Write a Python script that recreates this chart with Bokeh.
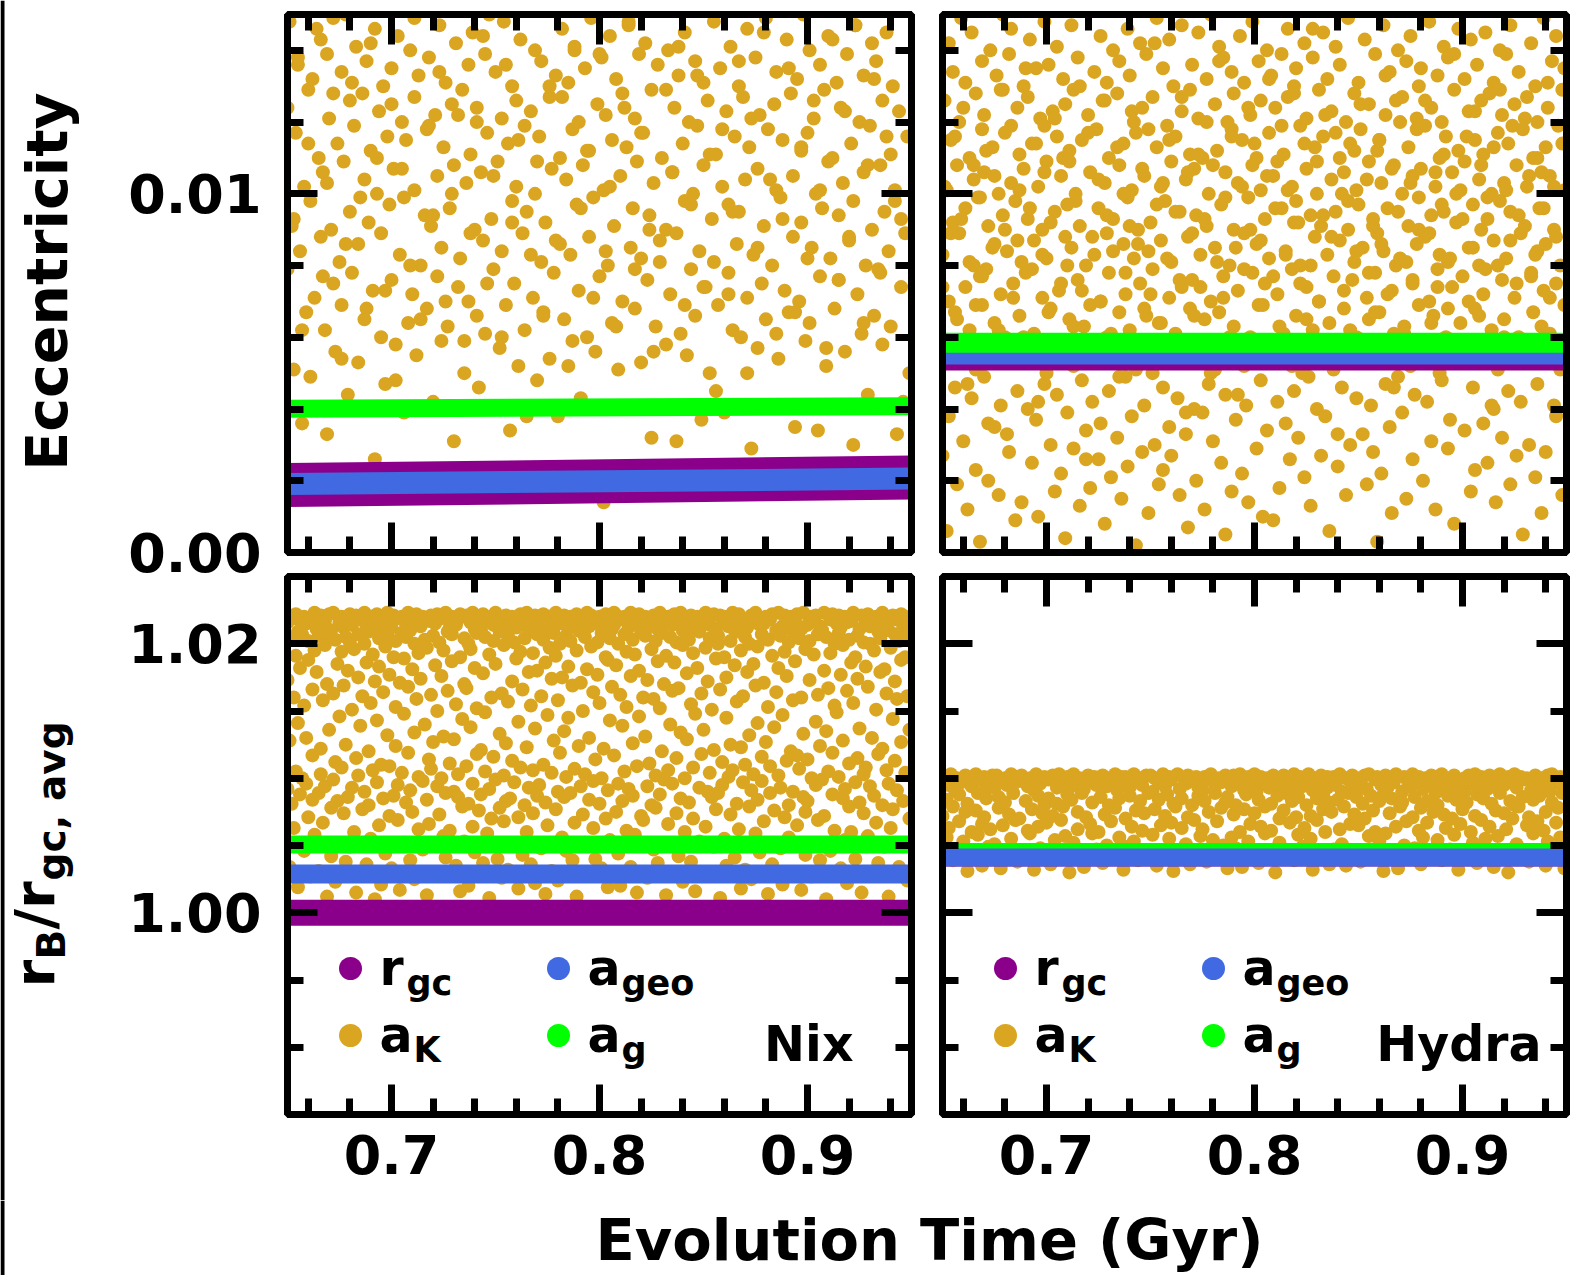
import numpy as np
from bokeh.plotting import figure
from bokeh.models import FixedTicker, PrintfTickFormatter, LinearAxis, Label, Range1d, Grid, BoxAnnotation
from bokeh.layouts import column, row
from bokeh.embed import file_html
from bokeh.resources import INLINE

# ======================= DATA =======================
x_limits = [0.65, 0.95]          # Evolution time (Gyr)
ecc_limits = [0.0, 0.015]
ratio_limits = [0.985, 1.025]
x_major_ticks = [0.7, 0.8, 0.9]
x_minor_ticks = [0.66, 0.68, 0.72, 0.74, 0.76, 0.78, 0.82, 0.84, 0.86, 0.88, 0.92, 0.94]
ecc_major_ticks = [0.0, 0.01]
ecc_minor_ticks = [0.002, 0.004, 0.006, 0.008, 0.012, 0.014]
ratio_major_ticks = [1.0, 1.02]
ratio_minor_ticks = [0.99, 0.995, 1.005, 1.01, 1.015]

legend_labels = [("r", "gc"), ("a", "geo"), ("a", "K"), ("a", "g")]
panel_names = ["Nix", "Hydra"]

# mean-element tracks (start / end of the interval)
line_time_gyr = [0.65, 0.95]
nix_ecc_rgc = [0.00188, 0.00209]
nix_ecc_ageo = [0.00191, 0.00206]
nix_ecc_ag = [0.00401, 0.00408]
hyd_ecc_rgc = [0.00535, 0.00535]
hyd_ecc_ageo = [0.00552, 0.00552]
hyd_ecc_ag = [0.00585, 0.00585]
nix_ratio_rgc = [1.0000, 1.0000]
nix_ratio_ageo = [1.00288, 1.00288]
nix_ratio_ag = [1.00507, 1.00507]
hyd_ratio_rgc = [1.00411, 1.00411]
hyd_ratio_ageo = [1.00411, 1.00411]
hyd_ratio_ag = [1.00452, 1.00452]

# Keplerian a_K samples: time in Myr, eccentricity x 1e3
nix_ecc_aK_time_myr = [
650,650,651,653,653,654,655,656,657,658,658,659,660,661,661,662,663,665,666,666,667,668,669,669,
670,671,672,672,673,674,675,676,676,677,678,679,680,680,681,682,683,684,684,686,687,687,688,689,
690,691,692,692,693,694,695,695,696,697,698,699,700,700,701,702,703,704,705,706,706,707,708,709,
710,711,711,712,713,714,715,716,717,717,718,719,720,721,722,722,723,724,724,725,726,727,728,729,
730,730,731,732,733,734,735,736,737,737,738,739,740,741,741,742,743,744,745,745,746,747,748,749,
750,751,752,753,753,754,755,756,757,758,758,759,760,760,761,762,763,764,764,765,767,768,769,769,
770,771,772,772,773,774,775,776,776,777,778,779,780,781,781,782,783,784,785,786,787,787,788,789,
790,790,791,792,793,794,795,795,796,797,798,799,800,801,802,802,803,804,805,806,806,807,808,809,
810,811,811,812,813,814,815,816,817,817,818,819,820,820,821,822,823,824,825,825,826,827,828,829,
830,831,832,832,833,834,835,836,837,837,838,839,840,841,841,842,843,844,845,846,846,847,848,849,
850,850,851,852,853,854,855,855,856,857,858,859,860,861,862,862,863,864,865,866,867,867,868,869,
870,871,871,872,873,874,875,876,876,877,878,879,880,880,881,882,883,884,885,885,886,887,888,889,
890,891,892,893,893,894,895,896,897,897,898,899,900,901,901,902,903,904,905,906,906,907,908,909,
910,910,911,912,913,914,915,915,916,917,918,919,920,921,922,922,923,924,925,926,927,927,928,929,
930,931,931,932,933,934,935,936,936,937,938,939,940,940,941,942,943,944,945,945,946,947,948,949,
652,655,657,660,664,667,669,672,676,678,681,685,688,690,693,697,700,702,705,709,
711,714,718,720,723,726,729,732,735,738,741,744,746,749,753,755,758,761,765,767,
770,773,776,779,782,785,788,791,794,797,800,803,805,808,812,814,817,820,824,826,
829,832,835,838,841,844,847,850,853,856,859,862,864,867,871,873,876,879,882,885,
888,891,894,897,900,903,906,909,912,915,918,920,923,927,929,932,935,938,942,946]
nix_ecc_aK_e3 = [
12.4,7.9,14.8,9.3,5.1,11.7,13.6,8.4,3.6,10.2,15.1,6.7,12.9,9.8,4.9,13.2,7.1,11.0,14.3,8.8,
10.6,6.2,13.9,3.3,12.1,9.0,14.9,7.5,5.6,11.4,8.1,13.4,6.9,10.9,15.0,4.4,12.6,9.5,7.8,11.9,
14.1,8.6,5.3,12.8,10.4,6.5,13.7,9.2,11.2,7.3,14.6,2.6,10.0,12.3,6.0,8.9,13.0,4.7,11.6,9.7,
7.6,13.5,10.7,5.8,14.4,8.3,12.0,3.9,9.9,11.5,6.4,14.0,7.2,12.7,10.1,5.5,13.3,8.0,15.2,9.4,
11.8,6.8,13.8,9.1,4.2,12.2,7.7,10.5,14.7,8.5,5.9,11.3,13.1,6.3,9.6,12.5,3.1,10.8,14.2,7.4,
8.2,12.9,5.0,10.3,13.6,7.0,11.1,14.5,9.0,6.6,12.4,4.6,10.6,8.7,13.9,6.1,11.7,15.0,9.3,7.9,
13.4,10.9,5.7,12.1,8.4,14.8,6.9,11.4,3.4,9.8,13.0,7.5,10.2,12.6,5.2,14.3,8.9,11.9,6.2,9.5,
12.3,7.1,14.0,10.0,4.8,11.6,8.1,13.7,6.7,9.2,15.1,5.4,12.7,10.7,7.8,13.3,3.8,11.0,8.6,14.6,
6.5,10.4,13.1,8.3,11.8,5.9,14.1,9.7,12.0,7.3,4.3,10.8,13.5,6.0,11.2,8.8,14.9,9.9,5.6,12.5,
7.7,13.8,10.1,1.4,12.2,8.0,14.4,6.4,11.5,9.1,13.2,5.1,10.5,7.0,12.8,4.0,11.3,14.7,8.5,9.6,
12.1,6.8,10.9,13.9,5.3,8.2,11.7,14.2,7.6,9.4,3.2,12.9,10.3,6.3,13.6,8.7,11.0,15.2,5.8,9.0,
14.0,7.2,10.6,12.4,8.9,3.1,13.3,6.1,11.4,9.8,14.5,5.5,12.0,7.9,10.0,13.7,6.6,11.9,8.4,3.7,
10.8,13.1,7.4,12.6,5.0,9.3,14.8,8.1,11.1,6.9,13.5,10.2,3.9,12.3,7.8,9.7,14.1,6.2,11.6,8.6,
13.0,9.5,6.0,12.7,10.4,14.6,7.1,11.3,2.9,8.3,13.8,5.7,10.7,12.2,7.5,9.1,14.9,6.5,11.8,4.1,
8.0,12.5,10.1,13.4,5.4,9.9,11.5,7.3,14.3,6.7,12.8,8.8,10.5,3.5,13.2,7.0,11.2,9.2,15.0,5.9,
11.7,6.4,14.0,8.5,12.1,10.0,3.4,13.6,7.7,9.6,12.9,5.2,10.9,14.4,8.2,11.0,6.8,13.1,9.4,7.6,
12.4,10.3,5.6,13.9,8.7,11.4,3.0,9.8,14.7,7.2,12.0,6.1,10.6,13.3,8.0,4.4,11.9,9.0,14.2,6.6,
13.7,7.9,10.8,12.6,5.8,9.5,14.5,8.4,11.1,6.3,13.0,10.1,3.3,12.3,7.4,9.3,15.1,8.9,11.6,5.0,
9.1,13.8,6.2,11.4,14.6,7.7,10.3,12.8,5.4,8.6,13.1,9.9,6.8,14.2,11.0,7.3,12.5,4.8,10.7,8.0,
14.9,6.5,11.9,9.4,13.4,7.0,10.0,12.2,5.9,8.9,12.0,14.4,7.5,10.5,6.0,13.6,9.2,11.5,3.8,8.3,
10.9,6.6,13.0,8.7,12.7,5.2,14.0,9.6,11.2,7.1,13.9,8.4,10.2,6.3,12.4,14.8,7.9,11.7,9.0,5.6,
8.1,12.9,10.6,14.1,6.9,9.7,13.3,7.4,11.1,4.5,11.8,7.2,9.5,13.7,5.0,12.1,8.5,14.5,10.4,6.1,
9.3,13.5,6.7,11.3,8.2,12.6,10.1,5.7,14.3,7.6,12.3,8.8,14.7,6.4,10.8,13.2,7.8,11.6,9.8,4.2]

hyd_ecc_aK_time_myr = [
650,650,651,651,652,652,653,653,653,654,655,655,656,656,657,657,658,658,659,659,
660,661,661,661,662,663,663,664,664,665,665,666,666,666,667,668,668,669,669,669,
670,670,670,671,672,672,673,674,674,675,675,675,676,677,677,678,678,679,679,679,
680,680,681,681,682,682,683,683,683,684,685,685,686,686,687,687,688,688,689,689,
690,691,691,691,692,693,693,694,694,695,695,696,696,696,697,698,698,699,699,699,
700,700,700,701,702,702,703,704,704,705,705,705,706,707,707,708,708,709,709,709,
710,710,711,711,712,712,713,713,713,714,715,715,716,716,717,717,718,718,719,719,
720,721,721,721,722,723,723,724,724,725,725,726,726,726,727,728,728,729,729,729,
730,730,730,731,732,732,733,734,734,735,735,735,736,737,737,738,738,739,739,739,
740,740,741,741,742,742,743,743,743,744,745,745,746,746,747,747,748,748,749,749,
750,751,751,751,752,753,753,754,754,755,755,756,756,756,757,758,758,759,759,759,
760,760,760,761,762,762,763,764,764,765,765,765,766,767,767,768,768,769,769,769,
770,770,771,771,772,772,773,773,773,774,775,775,776,776,777,777,778,778,779,779,
780,781,781,781,782,783,783,784,784,785,785,786,786,786,787,788,788,789,789,789,
790,790,790,791,792,792,793,794,794,795,795,795,796,797,797,798,798,799,799,799,
800,800,801,801,802,802,803,803,803,804,805,805,806,806,807,807,808,808,809,809,
810,811,811,811,812,813,813,814,814,815,815,816,816,816,817,818,818,819,819,819,
820,820,820,821,822,822,823,824,824,825,825,825,826,827,827,828,828,829,829,829,
830,830,831,831,832,832,833,833,833,834,835,835,836,836,837,837,838,838,839,839,
840,841,841,841,842,843,843,844,844,845,845,846,846,846,847,848,848,849,849,849,
850,850,850,851,852,852,853,854,854,855,855,855,856,857,857,858,858,859,859,859,
860,860,861,861,862,862,863,863,863,864,865,865,866,866,867,867,868,868,869,869,
870,871,871,871,872,873,873,874,874,875,875,876,876,876,877,878,878,879,879,879,
880,880,880,881,882,882,883,884,884,885,885,885,886,887,887,888,888,889,889,889,
890,890,891,891,892,892,893,893,893,894,895,895,896,896,897,897,898,898,899,899,
900,901,901,901,902,903,903,904,904,905,905,906,906,906,907,908,908,909,909,909,
910,910,910,911,912,912,913,914,914,915,915,915,916,917,917,918,918,919,919,919,
920,920,921,921,922,922,923,923,923,924,925,925,926,926,927,927,928,928,929,929,
930,931,931,931,932,933,933,934,934,935,935,936,936,936,937,938,938,939,939,939,
940,940,940,941,942,942,943,944,944,945,945,945,946,947,947,948,948,949,949,949,
650,651,653,654,656,657,659,660,662,663,665,666,668,669,671,672,674,675,677,678,
680,681,683,684,686,687,689,690,692,693,695,696,698,699,701,702,704,705,707,708,
710,711,713,714,716,717,719,720,722,723,725,726,728,729,731,732,734,735,737,738,
740,741,743,744,746,747,749,750,752,753,755,756,758,759,761,762,764,765,767,768,
770,771,773,774,776,777,779,780,782,783,785,786,788,789,791,792,794,795,797,798,
800,801,803,804,806,807,809,810,812,813,815,816,818,819,821,822,824,825,827,828,
830,831,833,834,836,837,839,840,842,843,845,846,848,849,851,852,854,855,857,858,
860,861,863,864,866,867,869,870,872,873,875,876,878,879,881,882,884,885,887,888,
890,891,893,894,896,897,899,900,902,903,905,906,908,909,911,912,914,915,917,918,
920,921,923,924,926,927,929,930,932,933,935,936,938,939,941,942,944,945,947,948]
hyd_ecc_aK_e3 = [
8.3,2.7,12.6,5.4,10.1,0.6,14.2,7.0,3.8,11.5,9.2,13.4,4.6,6.7,1.9,10.8,8.9,12.0,5.9,14.9,
3.1,9.6,7.4,13.1,1.2,11.0,6.2,4.3,14.5,8.0,10.4,2.3,12.8,5.1,9.9,7.7,0.3,11.8,6.9,13.7,
10.6,4.9,12.2,7.9,2.0,9.1,14.0,5.7,11.3,3.5,8.6,6.4,13.3,1.6,10.0,7.2,4.1,12.9,9.4,15.0,
6.0,11.7,3.3,8.4,13.9,2.8,10.3,5.3,14.6,7.5,9.8,0.9,12.4,4.5,11.1,6.6,8.1,1.4,13.0,10.7,
7.8,12.7,4.0,9.3,14.3,2.5,11.4,6.1,8.7,3.7,13.5,5.6,10.2,1.0,12.1,7.1,9.0,4.7,14.8,11.9,
5.0,10.9,8.2,13.6,3.0,6.8,12.3,1.7,9.5,11.6,4.4,14.1,7.3,2.2,10.5,5.8,13.2,8.8,0.4,12.5,
9.7,3.9,11.2,6.5,14.7,8.5,2.9,12.9,5.2,10.0,7.6,13.8,1.3,9.1,4.8,11.5,6.3,15.1,3.4,8.0,
12.2,6.9,1.8,10.6,4.2,13.4,8.3,5.5,11.8,2.6,9.6,14.4,7.0,3.6,12.6,10.3,0.8,6.0,13.1,8.9,
4.5,11.0,7.8,2.1,14.0,9.3,5.9,12.8,3.2,10.8,6.7,13.7,1.5,8.6,11.4,4.9,7.2,14.6,9.9,2.4,
13.3,6.2,10.1,3.8,8.2,12.0,0.2,11.7,5.3,9.0,14.2,7.5,2.8,12.4,4.1,10.5,6.6,13.9,8.4,1.1,
9.2,5.0,12.7,7.9,3.0,11.3,14.9,6.4,1.9,10.2,8.7,4.6,13.5,2.3,9.8,11.9,5.7,7.1,14.3,3.5,
10.9,2.7,8.1,13.0,6.1,11.6,4.3,9.5,1.6,12.3,7.4,14.7,5.4,10.4,3.3,8.8,0.7,12.9,6.8,11.1,
7.6,13.6,4.0,10.7,2.0,9.4,12.1,5.8,14.5,8.3,3.9,11.0,6.5,1.2,13.2,9.1,4.7,10.0,7.0,15.0,
3.1,12.5,8.5,5.1,11.2,14.1,6.7,2.5,9.7,13.8,7.7,0.5,10.6,4.4,12.0,8.0,5.6,11.8,1.7,13.4,
9.0,6.3,12.8,3.7,10.3,7.3,14.4,2.2,11.5,5.2,8.9,13.1,4.1,9.9,1.4,12.2,6.0,10.8,7.8,14.8,
5.5,11.4,2.9,8.6,13.7,6.9,10.1,4.8,12.6,1.0,9.3,7.5,14.0,3.4,11.7,8.2,5.9,13.3,0.9,10.5,
12.4,7.2,4.2,10.9,1.8,9.6,13.9,6.1,11.1,3.6,8.4,14.6,5.3,12.7,2.6,10.2,7.9,4.5,13.0,9.2,
6.6,13.5,9.8,3.2,11.9,8.0,5.0,14.2,2.1,10.7,7.4,12.1,4.9,9.4,1.3,13.8,6.2,11.3,8.8,15.1,
10.0,4.0,12.9,7.0,2.7,9.1,14.5,5.7,11.6,3.8,8.3,13.2,6.4,0.6,10.4,12.3,5.1,7.7,14.1,9.5,
2.4,11.0,8.7,13.6,4.6,10.6,6.8,12.0,1.6,9.0,14.9,5.4,11.4,3.0,7.6,12.8,8.1,4.3,10.1,6.0,
13.1,9.7,5.8,11.8,3.3,8.5,14.3,7.1,1.9,10.9,6.5,12.5,4.1,9.3,2.8,13.9,7.8,11.2,0.3,8.9,
11.5,6.7,2.2,10.3,14.7,8.4,4.7,12.2,5.9,9.6,3.5,13.4,7.3,1.1,10.8,6.1,12.6,8.0,14.0,4.9,
8.2,12.7,3.9,10.0,6.3,13.7,1.5,9.1,11.3,5.2,14.4,7.5,2.6,10.5,4.4,12.1,8.6,6.9,13.0,9.9,
5.6,10.7,13.5,2.0,8.8,11.9,4.2,7.0,14.8,9.4,3.1,12.4,6.6,1.2,10.2,7.9,13.3,5.0,11.0,8.3,
12.0,4.8,9.5,14.1,6.0,11.6,2.9,8.1,13.8,3.7,10.6,7.4,12.9,0.8,9.2,5.5,11.2,14.6,6.4,10.1,
7.7,13.2,3.4,10.9,5.3,12.3,8.5,1.7,14.3,9.7,4.6,11.5,6.8,2.3,13.6,8.0,10.4,5.8,12.6,9.0,
3.6,11.1,7.2,14.5,9.3,2.5,12.8,6.2,10.0,4.0,13.1,8.7,1.4,11.7,5.1,9.8,14.0,7.6,3.2,12.2,
10.3,6.5,13.9,8.2,4.5,11.4,1.9,9.5,14.7,5.7,12.5,7.1,2.7,10.8,6.0,13.4,8.9,4.2,11.8,0.5,
9.1,12.7,5.4,10.2,3.0,14.2,7.8,11.0,6.7,13.0,2.1,8.4,12.0,4.7,9.6,1.1,10.6,7.3,14.9,5.9,
11.3,8.6,2.8,12.4,6.1,10.5,13.7,4.1,9.0,7.5,14.4,3.8,11.9,5.2,8.0,12.9,1.6,10.1,6.9,13.5,
7.4,10.2,5.8,8.9,11.6,6.5,9.3,12.4,4.7,8.1,10.8,6.9,9.9,7.7,11.2,3.6,8.5,10.5,6.2,12.9,
9.0,5.3,11.9,7.1,8.7,10.1,6.0,13.5,9.6,7.9,11.4,4.2,8.3,10.6,6.7,9.2,12.1,5.5,7.5,11.0,
8.0,10.9,6.3,9.8,13.0,7.3,2.6,11.7,8.8,5.9,10.4,7.0,12.6,9.4,6.1,8.4,11.3,4.9,10.0,7.8,
9.1,12.3,5.1,8.6,10.7,6.8,11.8,7.2,14.2,9.7,6.4,10.3,8.2,11.5,5.6,9.5,7.6,12.7,3.9,10.6,
8.9,6.6,11.1,7.4,9.3,12.0,5.0,10.8,8.1,13.7,7.1,9.9,6.0,11.6,8.5,4.4,10.2,7.9,12.4,9.0,
5.7,11.0,8.7,6.9,10.5,13.2,7.7,9.6,6.3,11.9,8.3,10.1,5.2,12.8,9.2,7.5,11.4,6.5,8.0,14.6,
10.9,7.0,9.4,12.2,5.9,8.8,11.7,3.3,10.0,7.3,9.8,6.2,11.2,8.4,12.5,5.4,10.4,7.8,9.1,6.7,
11.5,8.6,13.3,7.2,10.7,4.6,9.5,12.0,6.1,8.1,10.3,7.6,11.8,9.0,5.8,12.6,8.9,6.4,10.6,7.4,
9.7,11.1,6.8,8.2,13.9,10.0,5.3,9.3,11.6,7.0,8.5,12.3,6.6,10.8,7.9,9.9,4.1,11.3,8.0,12.9,
6.0,10.1,8.7,11.9,7.5,9.4,5.5,12.1,10.5,7.7,8.3,11.0,6.3,9.6,13.1,7.1,10.2,8.8,5.1,11.4]

# r_B / r_gc,avg samples: time in Myr, (ratio - 1) x 1e3
nix_ratio_aK_time_myr = [
650,650,650,651,651,651,652,652,653,653,653,654,654,654,655,655,655,656,656,657,657,657,658,658,658,659,659,659,
660,660,660,661,661,662,662,662,663,663,663,664,664,664,665,665,665,666,666,666,667,667,668,668,668,669,669,669,
670,670,671,671,671,672,672,672,673,673,673,674,674,675,675,675,676,676,676,677,677,677,678,678,678,679,679,679,
680,680,680,681,681,681,682,682,683,683,683,684,684,684,685,685,685,686,686,687,687,687,688,688,688,689,689,689,
690,690,690,691,691,692,692,692,693,693,693,694,694,694,695,695,695,696,696,696,697,697,698,698,698,699,699,699,
700,700,701,701,701,702,702,702,703,703,703,704,704,705,705,705,706,706,706,707,707,707,708,708,708,709,709,709,
710,710,710,711,711,711,712,712,713,713,713,714,714,714,715,715,715,716,716,717,717,717,718,718,718,719,719,719,
720,720,720,721,721,722,722,722,723,723,723,724,724,724,725,725,725,726,726,726,727,727,728,728,728,729,729,729,
730,730,731,731,731,732,732,732,733,733,733,734,734,735,735,735,736,736,736,737,737,737,738,738,738,739,739,739,
740,740,740,741,741,741,742,742,743,743,743,744,744,744,745,745,745,746,746,747,747,747,748,748,748,749,749,749,
750,750,750,751,751,752,752,752,753,753,753,754,754,754,755,755,755,756,756,756,757,757,758,758,758,759,759,759,
760,760,761,761,761,762,762,762,763,763,763,764,764,765,765,765,766,766,766,767,767,767,768,768,768,769,769,769,
770,770,770,771,771,771,772,772,773,773,773,774,774,774,775,775,775,776,776,777,777,777,778,778,778,779,779,779,
780,780,780,781,781,782,782,782,783,783,783,784,784,784,785,785,785,786,786,786,787,787,788,788,788,789,789,789,
790,790,791,791,791,792,792,792,793,793,793,794,794,795,795,795,796,796,796,797,797,797,798,798,798,799,799,799,
800,800,800,801,801,801,802,802,803,803,803,804,804,804,805,805,805,806,806,807,807,807,808,808,808,809,809,809,
810,810,810,811,811,812,812,812,813,813,813,814,814,814,815,815,815,816,816,816,817,817,818,818,818,819,819,819,
820,820,821,821,821,822,822,822,823,823,823,824,824,825,825,825,826,826,826,827,827,827,828,828,828,829,829,829,
830,830,830,831,831,831,832,832,833,833,833,834,834,834,835,835,835,836,836,837,837,837,838,838,838,839,839,839,
840,840,840,841,841,842,842,842,843,843,843,844,844,844,845,845,845,846,846,846,847,847,848,848,848,849,849,849,
850,850,851,851,851,852,852,852,853,853,853,854,854,855,855,855,856,856,856,857,857,857,858,858,858,859,859,859,
860,860,860,861,861,861,862,862,863,863,863,864,864,864,865,865,865,866,866,867,867,867,868,868,868,869,869,869,
870,870,870,871,871,872,872,872,873,873,873,874,874,874,875,875,875,876,876,876,877,877,878,878,878,879,879,879,
880,880,881,881,881,882,882,882,883,883,883,884,884,885,885,885,886,886,886,887,887,887,888,888,888,889,889,889,
890,890,890,891,891,891,892,892,893,893,893,894,894,894,895,895,895,896,896,897,897,897,898,898,898,899,899,899,
900,900,900,901,901,902,902,902,903,903,903,904,904,904,905,905,905,906,906,906,907,907,908,908,908,909,909,909,
910,910,911,911,911,912,912,912,913,913,913,914,914,915,915,915,916,916,916,917,917,917,918,918,918,919,919,919,
920,920,920,921,921,921,922,922,923,923,923,924,924,924,925,925,925,926,926,927,927,927,928,928,928,929,929,929,
930,930,930,931,931,932,932,932,933,933,933,934,934,934,935,935,935,936,936,936,937,937,938,938,938,939,939,939,
940,940,941,941,941,942,942,942,943,943,943,944,944,945,945,945,946,946,946,947,947,947,948,948,948,949,949,949]
nix_ratio_aK_permil = [
21.6,9.2,17.3,22.1,3.4,12.8,20.4,8.1,16.0,21.9,6.3,10.5,19.1,22.2,1.9,14.1,20.9,8.8,18.2,21.3,
10.0,20.7,15.4,22.0,4.6,9.6,21.5,13.0,7.1,18.8,20.2,2.7,21.8,16.6,8.4,11.7,22.3,19.5,5.8,21.1,
17.9,21.4,8.9,3.1,20.6,12.2,22.1,10.3,15.8,6.7,21.7,9.4,19.9,1.2,17.0,20.8,13.6,22.2,7.8,4.2,
21.0,16.3,9.9,22.3,2.3,20.3,11.2,18.5,8.3,21.6,14.6,5.1,19.4,22.0,10.8,7.4,21.2,16.9,3.8,20.5,
12.5,21.9,8.6,18.0,22.2,4.9,20.1,15.1,9.3,21.4,6.0,19.6,1.5,22.1,11.5,17.5,20.7,10.2,13.9,2.9,
21.8,7.7,16.1,20.0,22.3,9.0,3.6,18.6,21.3,12.0,8.0,20.9,15.6,5.5,22.0,10.6,19.2,1.0,17.2,21.5,
9.7,22.2,14.3,20.4,6.5,18.3,21.1,2.1,11.0,21.7,16.4,8.5,19.8,4.4,22.3,13.2,20.6,7.2,17.7,10.9,
21.2,3.3,19.0,8.7,22.1,15.3,20.2,12.4,6.9,21.9,9.5,17.1,1.7,20.8,10.4,22.0,14.8,5.2,18.9,21.4,
8.2,20.5,16.8,22.3,11.9,3.9,21.0,9.1,18.1,7.5,21.6,13.4,2.5,20.0,15.9,22.2,10.1,6.2,19.3,21.8,
17.4,21.3,4.7,9.8,22.0,14.0,20.3,8.4,1.3,19.7,11.4,21.7,6.6,16.2,22.1,10.7,3.0,20.6,12.7,18.4,
21.5,9.4,15.0,22.2,7.3,20.1,2.8,17.6,10.0,21.9,13.1,5.7,19.5,22.3,8.9,4.1,20.9,16.5,11.1,21.2,
6.1,20.7,18.7,22.0,9.0,12.9,21.4,3.5,15.5,8.6,21.8,10.3,1.6,19.0,22.2,14.4,7.9,20.4,17.0,5.3,
22.1,10.9,16.7,20.0,2.0,8.1,21.6,13.8,19.6,6.4,22.3,9.6,4.5,18.2,21.1,11.8,15.2,20.8,7.6,21.9,
12.1,21.0,8.8,17.8,22.2,3.7,20.5,10.5,14.9,21.7,5.9,19.2,9.2,1.1,22.0,16.0,7.0,20.2,11.6,21.4,
18.5,22.3,9.9,4.0,21.3,13.3,20.9,7.8,16.3,2.6,21.8,10.2,19.9,6.8,22.1,12.6,8.3,20.6,15.7,3.2,
21.5,8.5,17.2,22.0,11.3,5.0,20.1,9.7,18.9,21.2,1.8,14.2,7.1,22.2,19.4,10.8,4.3,21.6,16.6,8.0,
20.4,12.3,22.3,6.0,17.9,9.3,21.0,3.6,15.4,21.8,10.6,19.3,7.4,22.1,13.7,2.2,20.7,8.7,18.0,21.4,
9.5,21.9,16.1,4.8,20.3,11.0,22.2,8.2,18.6,1.4,21.1,14.7,6.5,19.7,22.0,10.4,17.4,3.1,20.8,12.8,
21.7,7.7,19.1,22.3,9.0,15.8,2.4,20.0,11.9,21.5,5.6,17.5,8.6,22.1,13.5,20.6,4.6,10.1,18.3,21.2,
14.5,22.0,8.9,20.2,3.9,16.9,21.8,10.7,6.7,19.5,22.2,1.2,12.4,21.0,9.4,17.1,20.9,7.3,15.0,21.6,
10.3,20.5,5.2,22.3,18.1,8.4,21.3,13.0,2.9,19.8,22.1,9.8,16.4,6.3,21.9,11.4,4.0,20.1,17.7,21.5,
8.1,22.0,15.6,20.8,10.0,3.3,21.6,12.2,19.0,7.0,22.2,9.1,18.8,1.9,20.4,14.3,5.4,21.1,16.8,22.3,
11.7,21.4,7.5,18.4,22.1,4.4,20.0,9.6,16.2,21.8,2.0,13.9,8.3,20.7,22.0,10.5,6.1,19.4,15.3,21.2,
21.7,9.2,17.6,3.4,22.3,12.6,20.3,8.7,19.2,5.8,21.5,10.9,1.5,18.0,22.2,14.6,7.2,20.9,16.0,21.0,
6.9,20.6,13.1,22.0,9.4,17.3,2.6,21.3,11.1,19.6,8.0,21.9,4.7,15.9,22.1,10.2,20.2,7.8,18.7,3.7,
21.1,15.2,8.8,22.3,12.0,20.8,5.0,17.0,9.9,21.6,1.3,19.1,10.6,22.0,6.6,14.0,20.5,3.0,16.5,21.4,
9.6,22.2,18.6,7.4,20.1,11.5,21.8,4.2,16.7,8.5,22.3,13.4,2.3,19.9,21.0,10.0,6.0,20.7,17.8,12.9,
20.3,8.2,21.7,15.5,3.8,22.1,10.8,19.3,7.0,21.2,14.8,1.6,18.2,22.0,9.3,5.3,20.9,11.8,16.3,21.5,
13.6,21.9,6.4,19.7,22.3,9.0,17.2,2.8,20.4,10.4,21.4,8.6,15.1,4.9,22.2,12.1,18.9,7.7,21.1,20.0,
8.9,20.6,16.6,22.1,1.1,11.2,21.8,9.5,19.0,5.5,22.0,14.5,3.5,17.5,21.3,10.1,7.3,20.2,12.5,21.6,
22.3,10.6,18.4,4.1,21.0,8.1,15.7,20.9,6.2,22.2,12.3,1.8,19.5,9.7,21.7,16.1,3.2,20.5,11.0,17.9,
21.2,7.9,20.0,13.2,22.1,9.1,2.5,18.5,21.9,10.3,5.9,16.9,22.3,8.4,19.8,14.1,4.5,21.4,11.6,20.7,
9.8,21.5,17.1,6.8,22.0,12.7,20.3,1.4,15.3,8.9,21.8,10.9,19.1,3.6,22.2,13.8,7.6,20.8,16.4,21.0,
18.2,22.3,10.2,4.8,20.6,9.3,21.3,14.7,2.1,19.4,7.1,22.1,11.3,17.6,21.6,8.0,5.6,20.1,12.0,22.0,
20.9,15.8,9.0,21.7,3.0,18.7,11.7,22.2,6.5,20.4,10.7,16.0,1.7,21.1,8.6,13.3,22.3,19.6,7.5,4.3,
11.4,21.4,8.3,20.2,17.3,22.0,2.7,10.0,19.2,5.1,21.9,14.2,9.5,22.1,16.2,6.9,20.7,12.4,3.9,21.3,
21.0,9.9,18.0,22.3,7.2,13.5,20.5,1.0,16.7,10.5,21.8,4.6,19.3,8.8,22.2,11.9,15.4,20.0,6.1,21.5,
14.9,20.8,10.1,22.1,3.3,17.7,21.2,8.5,12.8,19.9,5.4,22.0,9.2,16.5,2.2,21.6,11.1,20.3,7.9,18.6,
21.7,6.0,15.6,22.3,9.7,19.0,4.0,20.6,11.5,17.4,21.1,8.2,13.7,1.5,22.1,10.3,20.1,7.4,18.3,21.4,
10.8,22.2,16.8,5.7,21.3,9.4,20.0,13.0,2.9,19.5,21.9,8.7,15.1,22.0,6.7,11.8,20.9,3.7,17.9,21.6,
20.4,12.2,22.3,8.0,18.1,4.9,21.5,10.6,16.3,1.2,21.0,9.6,19.7,6.3,22.1,14.4,7.7,20.7,11.3,17.2,
21.8,9.1,15.9,20.2,3.4,22.2,12.7,18.8,8.3,21.2,5.0,10.4,19.0,22.0,16.1,2.4,20.5,13.6,7.0,21.4]

hyd_ratio_aK_time_myr = [
650,650,651,652,652,653,653,654,655,655,656,656,657,658,658,659,
660,661,661,662,662,663,664,664,665,666,666,667,667,668,669,669,
670,670,671,671,672,673,673,674,675,675,676,677,677,678,678,679,
680,680,681,682,682,683,683,684,685,685,686,686,687,688,688,689,
690,691,691,692,692,693,694,694,695,696,696,697,697,698,699,699,
700,700,701,701,702,703,703,704,705,705,706,707,707,708,708,709,
710,710,711,712,712,713,713,714,715,715,716,716,717,718,718,719,
720,721,721,722,722,723,724,724,725,726,726,727,727,728,729,729,
730,730,731,731,732,733,733,734,735,735,736,737,737,738,738,739,
740,740,741,742,742,743,743,744,745,745,746,746,747,748,748,749,
750,751,751,752,752,753,754,754,755,756,756,757,757,758,759,759,
760,760,761,761,762,763,763,764,765,765,766,767,767,768,768,769,
770,770,771,772,772,773,773,774,775,775,776,776,777,778,778,779,
780,781,781,782,782,783,784,784,785,786,786,787,787,788,789,789,
790,790,791,791,792,793,793,794,795,795,796,797,797,798,798,799,
800,800,801,802,802,803,803,804,805,805,806,806,807,808,808,809,
810,811,811,812,812,813,814,814,815,816,816,817,817,818,819,819,
820,820,821,821,822,823,823,824,825,825,826,827,827,828,828,829,
830,830,831,832,832,833,833,834,835,835,836,836,837,838,838,839,
840,841,841,842,842,843,844,844,845,846,846,847,847,848,849,849,
850,850,851,851,852,853,853,854,855,855,856,857,857,858,858,859,
860,860,861,862,862,863,863,864,865,865,866,866,867,868,868,869,
870,871,871,872,872,873,874,874,875,876,876,877,877,878,879,879,
880,880,881,881,882,883,883,884,885,885,886,887,887,888,888,889,
890,890,891,892,892,893,893,894,895,895,896,896,897,898,898,899,
900,901,901,902,902,903,904,904,905,906,906,907,907,908,909,909,
910,910,911,911,912,913,913,914,915,915,916,917,917,918,918,919,
920,920,921,922,922,923,923,924,925,925,926,926,927,928,928,929,
930,931,931,932,932,933,934,934,935,936,936,937,937,938,939,939,
940,940,941,941,942,943,943,944,945,945,946,947,947,948,948,949]
hyd_ratio_aK_permil = [
9.8,7.2,10.1,5.6,8.4,9.5,6.3,10.3,3.9,7.9,9.1,4.6,10.0,6.8,8.8,9.7,5.3,7.5,10.2,3.1,
8.1,10.0,6.0,9.4,4.3,7.6,10.3,8.9,5.8,9.9,6.6,3.5,10.1,7.1,9.2,8.5,4.9,9.6,6.2,10.2,
9.3,5.1,10.2,7.8,8.6,9.9,3.3,6.5,10.0,8.2,9.5,4.1,7.3,10.3,5.5,8.9,9.7,6.9,3.8,10.1,
7.0,9.8,10.2,4.5,8.3,6.1,9.4,10.0,5.9,7.7,9.1,3.2,10.3,8.7,6.4,9.6,4.8,7.4,10.1,8.0,
10.0,6.7,8.5,9.9,3.6,7.2,10.2,5.4,9.3,8.1,10.3,4.2,6.9,9.6,7.9,5.7,10.1,8.8,3.0,9.4,
8.4,10.3,5.2,9.7,7.5,6.2,10.0,4.0,8.9,9.2,3.4,7.1,10.2,6.6,9.8,5.9,8.2,10.1,4.7,9.5,
6.0,9.9,8.6,10.2,3.7,7.3,9.4,5.0,10.0,8.0,6.8,9.7,4.4,10.3,7.8,9.1,5.6,8.5,10.1,3.2,
9.6,7.0,10.1,4.9,8.7,9.3,6.4,10.3,5.3,7.6,9.8,3.9,8.3,10.0,6.1,9.5,7.4,4.5,10.2,8.9,
10.2,5.8,9.0,7.7,10.0,3.5,8.4,9.7,6.5,10.3,4.1,7.2,9.4,8.8,5.5,10.1,6.7,9.9,3.1,8.1,
7.9,10.3,4.6,9.2,8.5,6.3,10.0,5.1,9.6,7.1,10.2,3.6,8.0,9.8,6.9,4.3,10.1,8.7,9.3,5.7,
9.1,6.2,10.1,8.3,3.8,9.9,7.5,10.3,5.4,8.9,9.5,4.0,6.8,10.0,7.8,9.7,5.0,8.2,10.2,3.3,
8.6,10.0,5.6,9.4,7.3,10.2,4.8,8.0,9.8,6.0,10.3,3.4,7.7,9.1,8.8,5.3,10.1,6.6,9.6,4.2,
10.3,7.4,9.0,3.7,8.4,10.1,6.4,9.7,5.9,7.9,10.0,4.5,9.3,8.1,6.1,10.2,3.0,8.7,9.5,7.0,
5.2,9.8,10.2,7.6,8.9,4.1,10.0,6.7,9.2,8.3,3.9,10.3,7.1,9.6,5.8,8.6,10.1,4.9,9.4,6.3,
9.9,8.0,10.3,5.5,7.2,9.1,3.2,10.0,8.5,6.9,9.7,4.4,10.2,7.7,8.8,6.0,9.3,10.1,3.6,8.2,
7.5,10.1,4.7,9.5,8.4,10.3,6.2,9.0,5.1,7.9,10.0,3.5,8.9,9.8,6.6,10.2,4.0,7.3,9.4,8.6,
10.0,6.5,9.6,3.8,8.1,10.2,7.0,9.2,5.7,10.3,8.7,4.3,7.6,9.9,6.0,10.1,5.3,8.3,9.5,3.1,
8.8,10.2,5.9,9.3,7.4,10.0,4.6,8.5,9.7,6.4,10.3,3.3,7.9,9.0,8.2,5.0,10.1,6.8,9.6,4.1,
9.4,7.1,10.3,4.8,8.6,9.9,6.1,10.1,3.6,7.8,9.2,5.6,10.0,8.3,6.7,9.7,4.4,10.2,7.5,8.9,
10.1,5.4,8.0,9.5,3.9,10.3,7.3,9.1,6.3,10.0,8.7,4.7,9.8,7.0,5.8,10.2,8.4,3.2,9.3,6.6,
7.7,10.0,9.0,4.2,8.2,10.2,6.0,9.6,5.2,10.3,7.2,3.7,8.8,9.4,6.9,10.1,4.9,8.5,9.9,5.5,
9.2,6.4,10.2,8.1,3.4,9.7,7.6,10.0,5.7,8.9,10.3,4.5,7.4,9.5,6.2,10.1,3.0,8.3,9.8,7.0,
10.3,8.0,5.1,9.3,7.9,10.1,4.0,8.6,9.9,6.5,10.0,3.8,7.1,9.1,8.4,5.9,10.2,6.8,9.6,4.6,
8.7,10.0,6.1,9.4,3.5,7.5,10.2,5.3,9.0,8.2,10.3,4.3,6.7,9.7,7.8,10.1,5.6,8.9,9.5,3.3]

# ======================= STYLE / LAYOUT =======================
FONT = "DejaVu Sans"
PURPLE, BLUE, GREEN, GOLD = "#8B008B", "#4169E1", "#00FF00", "#DAA520"
BASE_SHIFT = 0.36       # em offset of Bokeh's text anchor above the alphabetic baseline
BAR = 4                 # black rule at the left page edge
YL_W = 270              # strip holding the y titles and y tick labels (includes the rule)
FRAME_W, FRAME_H = 624, 538
L_BL, L_BR = 17, 15
R_BL, R_BR = 16, 10
T_BT, T_BB = 14, 21
B_BT, B_BB = 3, 86
XL_H = 75
W_L = L_BL + FRAME_W + L_BR
W_R = R_BL + FRAME_W + R_BR
H_T = T_BT + FRAME_H + T_BB
H_B = B_BT + FRAME_H + B_BB
PAGE_W = YL_W + W_L + W_R


def hide_grids(p):
    for g in p.select(type=Grid):
        g.visible = False


def style_axis(ax, labeled, fmt, standoff):
    ax.formatter = PrintfTickFormatter(format=fmt)
    ax.axis_line_color = "black"
    ax.axis_line_width = 7
    ax.major_tick_line_color = "black"
    ax.major_tick_line_width = 7
    ax.minor_tick_line_color = "black"
    ax.minor_tick_line_width = 7
    ax.major_tick_in = 30
    ax.major_tick_out = 0
    ax.minor_tick_in = 16
    ax.minor_tick_out = 0
    if labeled:
        ax.major_label_text_font = FONT
        ax.major_label_text_font_style = "bold"
        ax.major_label_text_font_size = "54px"
        ax.major_label_text_color = "black"
        ax.major_label_standoff = standoff
    else:
        ax.major_label_overrides = {t: "" for t in ax.ticker.ticks}
        ax.major_label_text_font_size = "0px"
        ax.major_label_standoff = 0


def make_panel(width, height, bl, br, bt, bb, ylim, yticks, yminor, yfmt, show_x):
    p = figure(width=width, height=height, x_range=Range1d(*x_limits), y_range=Range1d(*ylim),
               output_backend="svg", toolbar_location=None, title=None,
               x_axis_location=None, y_axis_location=None,
               min_border_left=bl, min_border_right=br, min_border_top=bt, min_border_bottom=bb)
    p.outline_line_color = "black"
    p.outline_line_width = 7
    p.background_fill_color = "white"
    p.border_fill_color = "white"
    xt = FixedTicker(ticks=x_major_ticks, minor_ticks=x_minor_ticks)
    yt = FixedTicker(ticks=yticks, minor_ticks=yminor)
    for side, tk, lab, fmt, so in [("below", xt, show_x, "%.1f", 20), ("above", xt, False, "%.1f", 0),
                                   ("left", yt, False, yfmt, 0), ("right", yt, False, yfmt, 0)]:
        ax = LinearAxis(ticker=tk)
        style_axis(ax, lab, fmt, so)
        p.add_layout(ax, side)
    hide_grids(p)
    return p


def blank_fig(width, height):
    p = figure(width=width, height=height, x_range=Range1d(0, width), y_range=Range1d(0, height),
               output_backend="svg", toolbar_location=None, title=None,
               x_axis_location=None, y_axis_location=None, min_border=0)
    p.outline_line_color = None
    p.background_fill_color = "white"
    p.border_fill_color = "white"
    hide_grids(p)
    # black rule along the left page edge
    p.add_layout(BoxAnnotation(left=0, right=BAR, bottom=0, top=height,
                               fill_color="black", fill_alpha=1.0, line_color=None))
    return p


def to_data(fr, px, py):
    fl, ft, fw, fh, xr, yr = fr
    return (xr[0] + (px - fl) / fw * (xr[1] - xr[0]),
            yr[0] + (ft + fh - py) / fh * (yr[1] - yr[0]))


def to_page_y(fr, y):
    fl, ft, fw, fh, xr, yr = fr
    return ft + fh - (y - yr[0]) / (yr[1] - yr[0]) * fh


def add_text(p, fr, px, py, text, size, align="left", angle=0):
    # (px, py) is the wanted alphabetic baseline point on the page
    if angle == 90:
        px = px - BASE_SHIFT * size
    else:
        py = py - BASE_SHIFT * size
    x, y = to_data(fr, px, py)
    p.add_layout(Label(x=x, y=y, x_units="data", y_units="data", text=text,
                       text_font=FONT, text_font_style="bold", text_font_size=f"{size}px",
                       text_color="black", text_align=align, text_baseline="alphabetic",
                       angle=angle, angle_units="deg"))


def pts(t, v, scale, offset):
    n = min(len(t), len(v))
    return np.array(t[:n], dtype=float) / 1000.0, offset + np.array(v[:n], dtype=float) * scale


p_tl = make_panel(W_L, H_T, L_BL, L_BR, T_BT, T_BB, ecc_limits, ecc_major_ticks, ecc_minor_ticks, "%.2f", False)
p_tr = make_panel(W_R, H_T, R_BL, R_BR, T_BT, T_BB, ecc_limits, ecc_major_ticks, ecc_minor_ticks, "%.2f", False)
p_bl = make_panel(W_L, H_B, L_BL, L_BR, B_BT, B_BB, ratio_limits, ratio_major_ticks, ratio_minor_ticks, "%.2f", True)
p_br = make_panel(W_R, H_B, R_BL, R_BR, B_BT, B_BB, ratio_limits, ratio_major_ticks, ratio_minor_ticks, "%.2f", True)

FL_L = YL_W + L_BL
FL_R = YL_W + W_L + R_BL
FT_T = T_BT
FT_B = H_T + B_BT
fr_tl = (FL_L, FT_T, FRAME_W, FRAME_H, x_limits, ecc_limits)
fr_tr = (FL_R, FT_T, FRAME_W, FRAME_H, x_limits, ecc_limits)
fr_bl = (FL_L, FT_B, FRAME_W, FRAME_H, x_limits, ratio_limits)
fr_br = (FL_R, FT_B, FRAME_W, FRAME_H, x_limits, ratio_limits)

scatter_sets = [
    (p_tl, nix_ecc_aK_time_myr, nix_ecc_aK_e3, 1e-3, 0.0),
    (p_tr, hyd_ecc_aK_time_myr, hyd_ecc_aK_e3, 1e-3, 0.0),
    (p_bl, nix_ratio_aK_time_myr, nix_ratio_aK_permil, 1e-3, 1.0),
    (p_br, hyd_ratio_aK_time_myr, hyd_ratio_aK_permil, 1e-3, 1.0),
]
for p, t, v, sc, off in scatter_sets:
    xs, ys = pts(t, v, sc, off)
    p.scatter(xs, ys, size=14, marker="circle", fill_color=GOLD, line_color=None)

line_sets = [
    (p_tl, [(nix_ecc_rgc, PURPLE, 44), (nix_ecc_ageo, BLUE, 22), (nix_ecc_ag, GREEN, 18)]),
    (p_tr, [(hyd_ecc_rgc, PURPLE, 20), (hyd_ecc_ageo, BLUE, 20), (hyd_ecc_ag, GREEN, 20)]),
    (p_bl, [(nix_ratio_rgc, PURPLE, 26), (nix_ratio_ageo, BLUE, 19), (nix_ratio_ag, GREEN, 18)]),
    (p_br, [(hyd_ratio_rgc, PURPLE, 18), (hyd_ratio_ag, GREEN, 18), (hyd_ratio_ageo, BLUE, 18)]),
]
for p, items in line_sets:
    for vals, col, w in items:
        p.line(line_time_gyr, vals, line_color=col, line_width=w, line_cap="butt")

# legends (bottom panels)
legend_colors = [PURPLE, BLUE, GOLD, GREEN]
for p, fr, name, name_dx in [(p_bl, fr_bl, panel_names[0], 58), (p_br, fr_br, panel_names[1], 25)]:
    fl = fr[0]
    col_dx = [63, 271]
    row_y = [968, 1035]
    base_y = [986, 1053]
    for i, ((main, sub), col) in enumerate(zip(legend_labels, legend_colors)):
        r, c = divmod(i, 2)
        mx, my = to_data(fr, fl + col_dx[c], row_y[r])
        p.scatter([mx], [my], size=23, marker="circle", fill_color=col, line_color=None)
        tx = fl + col_dx[c] + 29
        add_text(p, fr, tx, base_y[r], main, 49)
        add_text(p, fr, tx + (27 if main == "r" else 34), base_y[r] + 9, sub, 35)
    add_text(p, fr, fl + FRAME_W - name_dx, 1062, name, 49, align="right")

# left strip: y titles and y tick labels (page x from 0)
p_yl = blank_fig(YL_W, H_T + H_B)
fr_yl = (0, 0, YL_W, H_T + H_B, [0, YL_W], [0, H_T + H_B])
add_text(p_yl, fr_yl, 67, 281, "Eccentricity", 57, align="center", angle=90)
add_text(p_yl, fr_yl, 54, 987, "r", 56, angle=90)
add_text(p_yl, fr_yl, 65, 959, "B", 39, angle=90)
add_text(p_yl, fr_yl, 54, 929, "/r", 56, angle=90)
add_text(p_yl, fr_yl, 65, 880, "gc, avg", 39, angle=90)
for fr, ticks in [(fr_tl, ecc_major_ticks), (fr_bl, ratio_major_ticks)]:
    for t in ticks:
        add_text(p_yl, fr_yl, FL_L - 26, to_page_y(fr, t) + 19, "%.2f" % t, 54, align="right")

# x-axis title (own strip at the bottom, page x from 0)
p_xl = blank_fig(PAGE_W, XL_H)
fr_xl = (0, H_T + H_B, PAGE_W, XL_H, [0, PAGE_W], [0, XL_H])
add_text(p_xl, fr_xl, 929, 1261, "Evolution Time (Gyr)", 57.5, align="center")

layout = column(row(p_yl, column(row(p_tl, p_tr), row(p_bl, p_br))), p_xl)

open("out.html", "w").write(file_html(layout, INLINE))
